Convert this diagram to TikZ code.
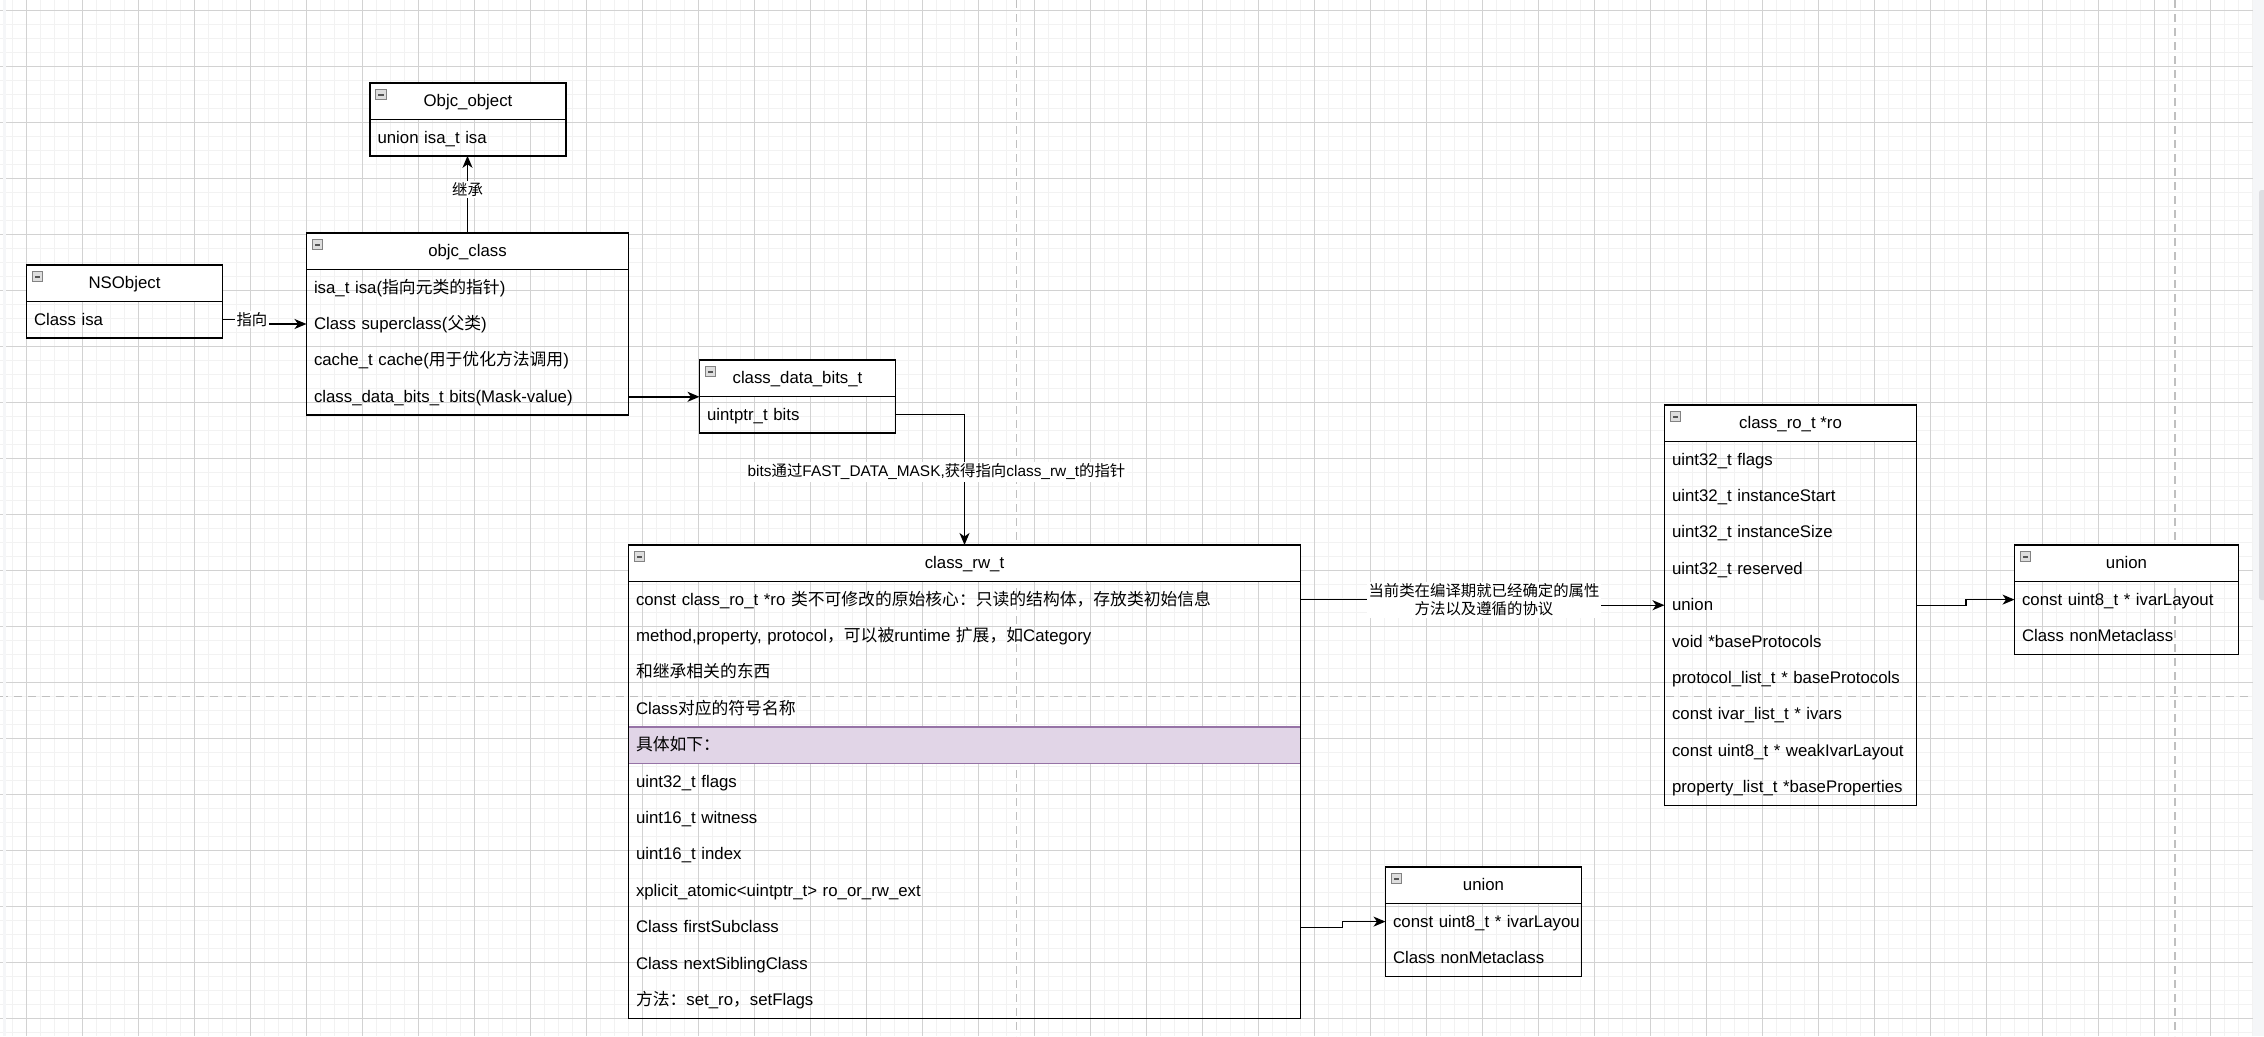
\documentclass[tikz,border=0pt]{standalone}
\usepackage{fontspec}
\setmainfont{Liberation Sans}
\newfontfamily\cjk{Noto Sans CJK SC}
\newcommand\zh[1]{{\cjk #1}}
\usepackage{tikz}
\usetikzlibrary{arrows.meta,positioning,calc}
\definecolor{gridMinor}{RGB}{242,242,242}
\definecolor{gridMajor}{RGB}{210,210,210}
\definecolor{pageLine}{RGB}{192,192,192}
\definecolor{hlFill}{RGB}{225,213,231}
\definecolor{hlLine}{RGB}{150,115,166}
\definecolor{icFill}{RGB}{222,222,222}
\definecolor{icLine}{RGB}{130,130,130}
\definecolor{icDash}{RGB}{85,85,85}
\definecolor{sideGray}{RGB}{245,246,248}
\definecolor{thumbGray}{RGB}{222,222,226}

\begin{document}
\begin{tikzpicture}[x=1pt,y=-1pt,font=\fontsize{16.8}{20}\selectfont,
  hd/.style={rectangle,anchor=north west,draw=black,fill=white,line width=1.4pt,
             minimum height=36.4pt,inner sep=0pt,outer sep=0pt,
             text height=13.5pt,text depth=2.5pt},
  fd/.style={rectangle,anchor=north west,minimum height=36.4pt,text width=#1,
             align=left,inner xsep=7.5pt,inner ysep=0pt,outer sep=0pt,
             text height=13.5pt,text depth=2.5pt},
  hl/.style={fill=hlFill,draw=hlLine,line width=1.4pt},
  ic/.style={rectangle,minimum width=10.5pt,minimum height=10pt,inner sep=0pt,
             draw=icLine,fill=icFill,line width=0.7pt,
             path picture={\fill[icDash] ([xshift=2.5pt,yshift=-1pt]path picture bounding box.west)
                           rectangle ([xshift=-2.5pt,yshift=1pt]path picture bounding box.east);}},
  bx/.style={draw=black,line width=1.4pt},
  ar/.style={-{Stealth[length=12pt,width=10pt,inset=3.5pt]},black,line width=1.4pt},
  lb/.style={fill=white,inner sep=1.5pt,font=\fontsize{15.4}{18.5}\selectfont},
  gmin/.style={gridMinor,line width=1.6pt},
  gmaj/.style={gridMajor,line width=1.2pt},
  pg/.style={pageLine,line width=1.5pt,dash pattern=on 8pt off 6pt}]

  \useasboundingbox (0,0) rectangle (2264,1036);
  \fill[white] (0,0) rectangle (2264,1036);
  \foreach \i in {0,...,160} \draw[gmin] ({12.3+14*\i},0) -- ({12.3+14*\i},1036);
  \foreach \j in {0,...,73} \draw[gmin] (0,{10.3+14*\j}) -- (2253,{10.3+14*\j});
  \foreach \i in {0,...,39} \draw[gmaj] ({26.3+56*\i},0) -- ({26.3+56*\i},1036);
  \foreach \j in {0,...,18} \draw[gmaj] (0,{10.3+56*\j}) -- (2253,{10.3+56*\j});
  \draw[pg] (1016.7,0) -- (1016.7,1036);
  \draw[pg] (2175,0) -- (2175,1036);
  \draw[pg] (0,696.7) -- (2253,696.7);
  \fill[sideGray] (2253.3,0) rectangle (2264,1036);
  \fill[sideGray] (3,0) rectangle (6,1036);
  \fill[thumbGray,rounded corners=2.5pt] (2259,190) rectangle (2268,600);

  \node[hd,minimum width=196pt] (nso) at (26.5,265) {NSObject};
  \node[ic] (nsoi) at ([shift={(10.8,11.8)}]nso.north west) {};
  \node[fd=181pt] (nso1) at (nso.south west) {Class isa};
  \draw[bx] (nso.north west) rectangle (nso1.south east);

  \node[hd,minimum width=196pt] (obj) at (370,83) {Objc\_object};
  \node[ic] (obji) at ([shift={(10.8,11.8)}]obj.north west) {};
  \node[fd=181pt] (obj1) at (obj.south west) {union isa\_t isa};
  \draw[bx] (obj.north west) rectangle (obj1.south east);

  \node[hd,minimum width=322pt] (cls) at (306.5,233) {objc\_class};
  \node[ic] (clsi) at ([shift={(10.8,11.8)}]cls.north west) {};
  \node[fd=307pt] (cls1) at (cls.south west) {isa\_t isa(\zh{指向元类的指针})};
  \node[fd=307pt] (cls2) at (cls1.south west) {Class superclass(\zh{父类})};
  \node[fd=307pt] (cls3) at (cls2.south west) {cache\_t cache(\zh{用于优化方法调用})};
  \node[fd=307pt] (cls4) at (cls3.south west) {class\_data\_bits\_t bits(Mask-value)};
  \draw[bx] (cls.north west) rectangle (cls4.south east);

  \node[hd,minimum width=196pt] (bit) at (699.5,360) {class\_data\_bits\_t};
  \node[ic] (biti) at ([shift={(10.8,11.8)}]bit.north west) {};
  \node[fd=181pt] (bit1) at (bit.south west) {uintptr\_t bits};
  \draw[bx] (bit.north west) rectangle (bit1.south east);

  \node[hd,minimum width=672pt] (rw) at (628.5,545) {class\_rw\_t};
  \node[ic] (rwi) at ([shift={(10.8,11.8)}]rw.north west) {};
  \node[fd=657pt] (rw1) at (rw.south west) {const class\_ro\_t *ro \zh{类不可修改的原始核心：只读的结构体，存放类初始信息}};
  \node[fd=657pt] (rw2) at (rw1.south west) {method,property, protocol\zh{，可以被}runtime \zh{扩展，如}Category};
  \node[fd=657pt] (rw3) at (rw2.south west) {\zh{和继承相关的东西}};
  \node[fd=657pt] (rw4) at (rw3.south west) {Class\zh{对应的符号名称}};
  \node[fd=657pt,hl] (rw5) at (rw4.south west) {\zh{具体如下：}};
  \node[fd=657pt] (rw6) at (rw5.south west) {uint32\_t flags};
  \node[fd=657pt] (rw7) at (rw6.south west) {uint16\_t witness};
  \node[fd=657pt] (rw8) at (rw7.south west) {uint16\_t index};
  \node[fd=657pt] (rw9) at (rw8.south west) {xplicit\_atomic<uintptr\_t> ro\_or\_rw\_ext};
  \node[fd=657pt] (rw10) at (rw9.south west) {Class firstSubclass};
  \node[fd=657pt] (rw11) at (rw10.south west) {Class nextSiblingClass};
  \node[fd=657pt] (rw12) at (rw11.south west) {\zh{方法：}set\_ro\zh{，}setFlags};
  \draw[bx] (rw.north west) rectangle (rw12.south east);

  \node[hd,minimum width=252pt] (ro) at (1664.5,405) {class\_ro\_t *ro};
  \node[ic] (roi) at ([shift={(10.8,11.8)}]ro.north west) {};
  \node[fd=237pt] (ro1) at (ro.south west) {uint32\_t flags};
  \node[fd=237pt] (ro2) at (ro1.south west) {uint32\_t instanceStart};
  \node[fd=237pt] (ro3) at (ro2.south west) {uint32\_t instanceSize};
  \node[fd=237pt] (ro4) at (ro3.south west) {uint32\_t reserved};
  \node[fd=237pt] (ro5) at (ro4.south west) {union};
  \node[fd=237pt] (ro6) at (ro5.south west) {void *baseProtocols};
  \node[fd=237pt] (ro7) at (ro6.south west) {protocol\_list\_t * baseProtocols};
  \node[fd=237pt] (ro8) at (ro7.south west) {const ivar\_list\_t * ivars};
  \node[fd=237pt] (ro9) at (ro8.south west) {const uint8\_t * weakIvarLayout};
  \node[fd=237pt] (ro10) at (ro9.south west) {property\_list\_t *baseProperties};
  \draw[bx] (ro.north west) rectangle (ro10.south east);

  \node[hd,minimum width=224pt] (ua) at (2014.5,545) {union};
  \node[ic] (uai) at ([shift={(10.8,11.8)}]ua.north west) {};
  \node[fd=209pt] (ua1) at (ua.south west) {const uint8\_t * ivarLayout};
  \node[fd=209pt] (ua2) at (ua1.south west) {Class nonMetaclass};
  \draw[bx] (ua.north west) rectangle (ua2.south east);

  \node[hd,minimum width=196pt] (ub) at (1385.5,867) {union};
  \node[ic] (ubi) at ([shift={(10.8,11.8)}]ub.north west) {};
  \node[fd=181pt] (ub1) at (ub.south west) {\mbox{const uint8\_t * ivarLayou}};
  \node[fd=181pt] (ub2) at (ub1.south west) {Class nonMetaclass};
  \draw[bx] (ub.north west) rectangle (ub2.south east);

  \draw[ar] (nso1.east) -- node[lb,pos=0.7] (lzx) {\zh{指向}} ++(42,0) |- (cls2.west);
  \draw[ar] (cls.north) -- node[lb,pos=0.56] (ljc) {\zh{继承}} (cls.north |- obj1.south);
  \draw[ar] (cls4.east) -- (cls4.east -| bit.west);
  \draw[ar] (bit1.east) -| node[lb,pos=0.72,xshift=-28pt] (lbits)
    {bits\zh{通过}FAST\_DATA\_MASK,\zh{获得指向}class\_rw\_t\zh{的指针}} (rw.north);
  \draw[ar] (rw1.east) -- ++(183.5,0) node[lb,align=center] (lro)
    {\zh{当前类在编译期就已经确定的属性}\\\zh{方法以及遵循的协议}} |- (ro5.west);
  \draw[ar] (ro5.east) -- ++(49.3,0) |- (ua1.west);
  \draw[ar] (rw10.east) -- ++(42,0) |- (ub1.west);
\end{tikzpicture}
\end{document}
